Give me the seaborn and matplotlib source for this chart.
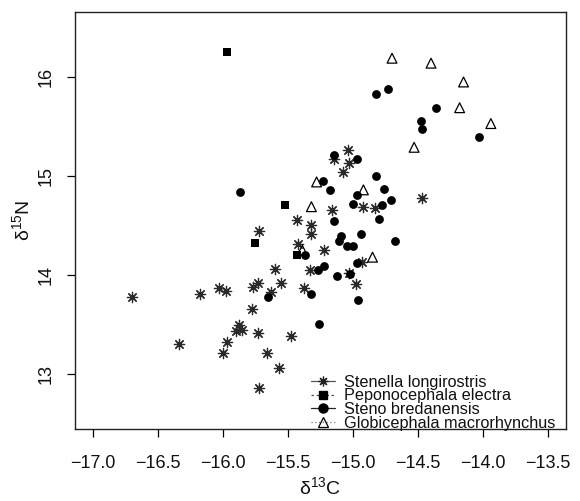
import matplotlib
matplotlib.use("Agg")
import matplotlib.pyplot as plt
from matplotlib.lines import Line2D
import seaborn as sns
import pandas as pd

# ---- data ----
stenella_x = [-15.04, -15.15, -15.03, -15.08, -14.47, -15.16, -14.92, -14.83, -15.32, -15.32,
              -15.43, -15.22, -15.33, -15.03, -14.98, -14.93, -15.38, -15.42, -15.72, -15.60,
              -15.55, -15.73, -15.77, -15.63, -15.78, -16.03, -15.98, -16.18, -16.70, -15.88,
              -15.90, -15.85, -15.73, -15.48, -16.34, -15.97, -16.00, -15.66, -15.57, -15.72]
stenella_y = [15.26, 15.17, 15.13, 15.04, 14.78, 14.66, 14.69, 14.68, 14.50, 14.41,
              14.56, 14.25, 14.05, 14.02, 13.91, 14.13, 13.87, 14.31, 14.44, 14.06,
              13.92, 13.92, 13.88, 13.83, 13.66, 13.87, 13.84, 13.81, 13.78, 13.49,
              13.43, 13.44, 13.41, 13.38, 13.30, 13.32, 13.21, 13.21, 13.06, 12.86]

pepono_x = [-15.97, -15.52, -15.75, -15.43]
pepono_y = [16.25, 14.71, 14.32, 14.20]

steno_x = [-14.82, -14.73, -14.36, -14.48, -14.47, -14.03, -15.15, -14.97, -14.82, -15.23,
           -15.18, -14.76, -14.97, -14.71, -15.00, -14.78, -15.15, -14.80, -15.09, -15.11,
           -14.94, -15.05, -15.00, -14.68, -14.97, -15.22, -15.27, -15.12, -15.02, -15.32,
           -14.96, -15.26, -15.37, -15.65, -15.87]
steno_y = [15.83, 15.88, 15.69, 15.56, 15.47, 15.39, 15.21, 15.17, 15.00, 14.95,
           14.86, 14.87, 14.81, 14.76, 14.72, 14.71, 14.55, 14.57, 14.39, 14.34,
           14.41, 14.29, 14.29, 14.34, 14.12, 14.09, 14.05, 13.99, 14.01, 13.81,
           13.75, 13.50, 14.20, 13.78, 14.84]

globi_x = [-14.70, -14.40, -14.15, -14.18, -13.94, -14.53, -15.28, -14.92, -15.32, -14.85, -15.39]
globi_y = [16.19, 16.14, 15.95, 15.69, 15.53, 15.29, 14.94, 14.86, 14.69, 14.18, 14.25]

species = ["Stenella longirostris", "Peponocephala electra",
           "Steno bredanensis", "Globicephala macrorhynchus"]
x_ticks = [-17.0, -16.5, -16.0, -15.5, -15.0, -14.5, -14.0, -13.5]
y_ticks = [13, 14, 15, 16]

# ---- style ----
sns.set_theme(style="white")
plt.rcParams["font.family"] = ["Liberation Sans", "DejaVu Sans"]
plt.rcParams["mathtext.fontset"] = "custom"
plt.rcParams["mathtext.rm"] = "Liberation Sans"
plt.rcParams["mathtext.it"] = "Liberation Sans:italic"
plt.rcParams["axes.unicode_minus"] = True

fig = plt.figure(figsize=(5.8, 5.01), dpi=100)
ax = fig.add_axes([75 / 580, 1 - 429 / 501, (566 - 75) / 580, (429 - 12) / 501])

star = (8, 2, 0)
df_st = pd.DataFrame({"x": stenella_x, "y": stenella_y})
df_gl = pd.DataFrame({"x": globi_x, "y": globi_y})
df_pe = pd.DataFrame({"x": pepono_x, "y": pepono_y})
df_sb = pd.DataFrame({"x": steno_x, "y": steno_y})

sns.scatterplot(data=df_st, x="x", y="y", ax=ax, marker=star, s=55,
                color="#2a2a2a", edgecolor="#2a2a2a", linewidth=0.9, legend=False, zorder=3)
sns.scatterplot(data=df_gl, x="x", y="y", ax=ax, marker="^", s=50,
                color="black", facecolor="none", edgecolor="black", linewidth=0.9,
                legend=False, zorder=3)
sns.scatterplot(data=df_pe, x="x", y="y", ax=ax, marker="s", s=34,
                color="black", edgecolor="black", linewidth=0, legend=False, zorder=4)
sns.scatterplot(data=df_sb, x="x", y="y", ax=ax, marker="o", s=40,
                color="black", edgecolor="black", linewidth=0, legend=False, zorder=4)

ax.set_xlim(-17.138, -13.362)
ax.set_ylim(12.444, 16.657)
ax.set_xticks(x_ticks)
ax.set_xticklabels([f"{v:.1f}".replace("-", "\u2212") for v in x_ticks])
ax.set_yticks(y_ticks)
ax.set_yticklabels([str(v) for v in y_ticks], rotation=90, va="center")

ax.tick_params(axis="both", which="major", direction="out", length=5.5, width=0.9,
               color="black", labelsize=13, labelcolor="#111111", bottom=True, left=True)
ax.tick_params(axis="x", pad=13)
ax.tick_params(axis="y", pad=9)
for sp in ax.spines.values():
    sp.set_visible(True)
    sp.set_color("#222222")
    sp.set_linewidth(1.0)
ax.grid(False)

ax.set_xlabel("\u03b4$^{13}$C", fontsize=14, color="#111111")
ax.set_ylabel("\u03b4$^{15}$N", fontsize=14, color="#111111")
ax.xaxis.set_label_coords(0.5, -0.112)
ax.yaxis.set_label_coords(-0.085, 0.5)

handles = [
    Line2D([], [], color="#555555", lw=0.9, ls="-", marker=star, markersize=7,
           markeredgecolor="#222222", markeredgewidth=0.9),
    Line2D([], [], color="#555555", lw=0.9, ls=(0, (2, 2)), marker="s", markersize=6,
           markerfacecolor="black", markeredgecolor="black"),
    Line2D([], [], color="#222222", lw=0.9, ls="-", marker="o", markersize=6.5,
           markerfacecolor="black", markeredgecolor="black"),
    Line2D([], [], color="#777777", lw=0.9, ls=(0, (1, 2)), marker="^", markersize=7,
           markerfacecolor="none", markeredgecolor="black", markeredgewidth=0.9),
]
leg = ax.legend(handles, species, loc="lower right", bbox_to_anchor=(0.978, -0.004),
                frameon=False, fontsize=11.7, labelspacing=-0.08, handlelength=1.45,
                handletextpad=0.55, borderpad=0, borderaxespad=0)
for t in leg.get_texts():
    t.set_color("#111111")

fig.savefig("out.png", dpi=100)
